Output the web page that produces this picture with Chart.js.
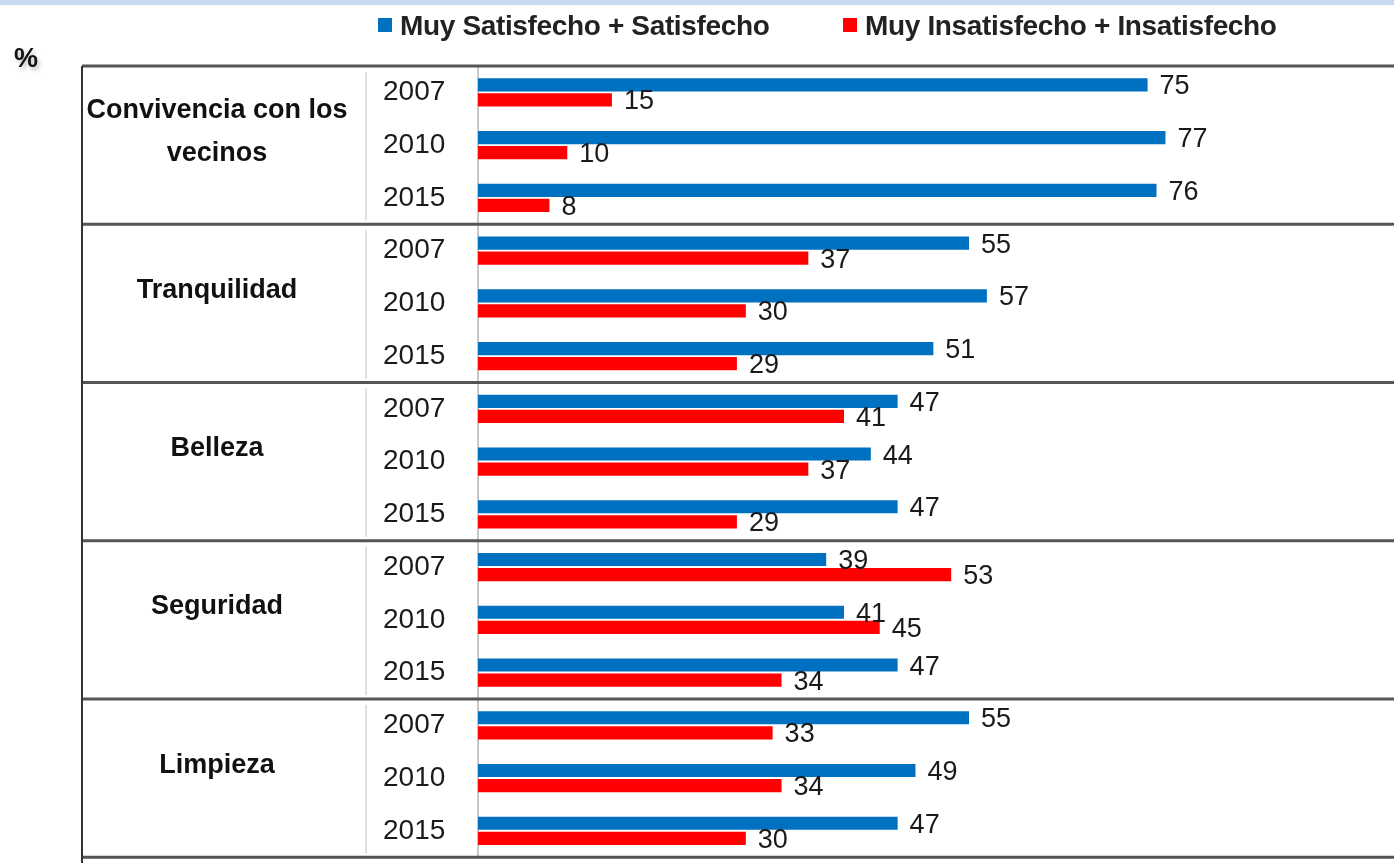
<!DOCTYPE html>
<html>
<head>
<meta charset="utf-8">
<script src="https://cdn.jsdelivr.net/npm/chart.js@4.4.1/dist/chart.umd.min.js"></script>
<style>
  html, body { margin: 0; padding: 0; background: #fff; overflow: hidden; }
  body { width: 1394px; height: 863px; position: relative; font-family: "Liberation Sans", Arial, sans-serif; }
  #band { position: absolute; left: 0; top: 0; width: 1394px; height: 5px; background: #c6d9f1; z-index: 2; }
  #js--chart-1 { position: absolute; left: 0; top: 0; }
  #pct { position: absolute; left: 14px; top: 43px; font-size: 27px; font-weight: bold; color: #111; text-shadow: 2px 3px 4px #bbb; z-index: 2; }
  .leg { position: absolute; top: 10px; font-size: 28px; font-weight: bold; color: #222; letter-spacing: -0.35px; white-space: nowrap; z-index: 2; }
  .leg span { display: inline-block; width: 14px; height: 14px; margin-right: 8px; vertical-align: 3px; }
</style>
</head>
<body>
<div id="band"></div>
<div id="pct">%</div>
<div class="leg" style="left:378px"><span style="background:#0070c0"></span>Muy Satisfecho + Satisfecho</div>
<div class="leg" style="left:843px"><span style="background:#ff0000"></span>Muy Insatisfecho + Insatisfecho</div>
<canvas id="js--chart-1" width="1394" height="878"></canvas>
<script>
const categories = [
    ["Convivencia con los", "vecinos"],
    ["Tranquilidad"],
    ["Belleza"],
    ["Seguridad"],
    ["Limpieza"],
];
const years = ["2007", "2010", "2015"];

const satisfechos = [75, 77, 76, 55, 57, 51, 47, 44, 47, 39, 41, 47, 55, 49, 47];
const insatisfechos = [15, 10, 8, 37, 30, 29, 41, 37, 29, 53, 45, 34, 33, 34, 30];

let rowLabels = [];
categories.forEach(() => years.forEach(y => rowLabels.push(y)));

const font = '"Liberation Sans", Arial, sans-serif';

// numbers next to the bars
const valueLabels = {
    id: 'valueLabels',
    afterDatasetsDraw(chart) {
        const ctx = chart.ctx;
        ctx.save();
        ctx.font = '27px ' + font;
        ctx.fillStyle = '#1a1a1a';
        ctx.textBaseline = 'middle';
        chart.data.datasets.forEach((ds, i) => {
            chart.getDatasetMeta(i).data.forEach((bar, j) => {
                ctx.fillText(ds.data[j], bar.x + 12, bar.y + 2);
            });
        });
        ctx.restore();
    }
};

// group separators + category names
const groups = {
    id: 'groups',
    afterDraw(chart) {
        const ctx = chart.ctx;
        const yScale = chart.scales.y;
        const area = chart.chartArea;
        const step = yScale.getPixelForValue(1) - yScale.getPixelForValue(0);
        ctx.save();

        // faint boxes round the year column
        ctx.strokeStyle = '#d4d4d4';
        ctx.lineWidth = 1.5;
        for (let g = 0; g < categories.length; g++) {
            let y0 = yScale.getPixelForValue(g * years.length) - step / 2 + 6;
            let y1 = yScale.getPixelForValue(g * years.length + 2) + step / 2 - 4;
            ctx.beginPath();
            ctx.moveTo(366, y0);
            ctx.lineTo(366, y1);
            ctx.stroke();
        }

        ctx.strokeStyle = '#555';
        ctx.lineWidth = 3;
        for (let g = 0; g <= categories.length; g++) {
            let y = yScale.getPixelForValue(g * years.length) - step / 2;
            ctx.beginPath();
            ctx.moveTo(82, y);
            ctx.lineTo(chart.width, y);
            ctx.stroke();
        }
        ctx.strokeStyle = '#333';
        ctx.lineWidth = 2;
        ctx.beginPath();
        ctx.moveTo(82, area.top);
        ctx.lineTo(82, chart.height);
        ctx.stroke();

        ctx.font = 'bold 27px ' + font;
        ctx.fillStyle = '#111';
        ctx.textAlign = 'center';
        ctx.textBaseline = 'middle';
        categories.forEach((lines, g) => {
            let mid = yScale.getPixelForValue(g * years.length + 1) - 13;
            lines.forEach((t, k) => {
                ctx.fillText(t, 217, mid + (k - (lines.length - 1) / 2) * 43);
            });
        });
        ctx.restore();
    }
};

const data1 = {
    labels: rowLabels,
    datasets: [
        {
            label: "Muy Satisfecho + Satisfecho",
            data: satisfechos,
            backgroundColor: '#0070c0',
        },
        {
            label: "Muy Insatisfecho + Insatisfecho",
            data: insatisfechos,
            backgroundColor: '#ff0000',
        }
    ]
};

const config = {
    type: 'bar',
    data: data1,
    options: {
        indexAxis: 'y',
        responsive: false,
        animation: false,
        categoryPercentage: 0.57,
        barPercentage: 0.87,
        layout: { padding: { left: 383, top: 66, right: 0, bottom: 2 } },
        plugins: {
            legend: { display: false },
            tooltip: { enabled: false }
        },
        scales: {
            x: { display: false, min: 0, max: 102.6 },
            y: {
                grid: { display: false },
                border: { display: true, color: '#c8c8c8', width: 2 },
                ticks: {
                    crossAlign: 'far',
                    color: '#1a1a1a',
                    font: { size: 28, family: font },
                    padding: 4
                },
                afterFit(scale) { scale.width = 95; }
            }
        }
    },
    plugins: [valueLabels, groups]
};

const chart1 = new Chart(document.getElementById("js--chart-1"), config);
</script>
</body>
</html>
